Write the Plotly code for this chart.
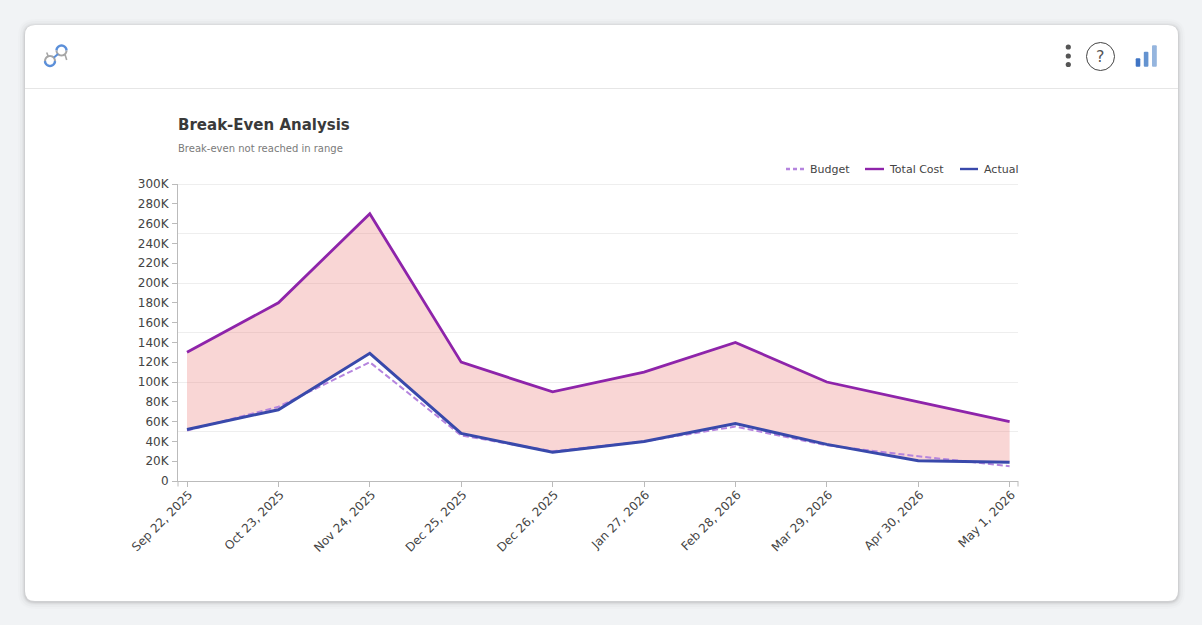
import math
import plotly.graph_objects as go

# Chart data (values in currency units)
dates = ["Sep 22, 2025", "Oct 23, 2025", "Nov 24, 2025", "Dec 25, 2025", "Dec 26, 2025",
         "Jan 27, 2026", "Feb 28, 2026", "Mar 29, 2026", "Apr 30, 2026", "May 1, 2026"]
budget = [51000, 75000, 120000, 46000, 30000, 40000, 55000, 36000, 25000, 15000]
total_cost = [130000, 180000, 270000, 120000, 90000, 110000, 140000, 100000, 80000, 60000]
actual = [52000, 72000, 129000, 48000, 29000, 40000, 58000, 37000, 20500, 19000]
y_ticks = list(range(0, 300001, 20000))
y_tick_labels = ["0"] + [f"{v // 1000}K" for v in y_ticks[1:]]
grid_values = list(range(0, 300001, 50000))

BUDGET_COLOR = "#b584de"
COST_COLOR = "#8e24aa"
ACTUAL_COLOR = "#3949ab"
FILL_COLOR = "rgba(235,115,110,0.29)"
FONT = "DejaVu Sans"

# Figure and plot-area geometry in page pixels
W, H = 1202, 625
L, R, T, B = 178, 1018, 184, 481


def px(x):
    return (x - L) / (R - L)


def py(y):
    return (B - y) / (B - T)


def rounded_rect(x0, y0, x1, y1, r):
    return (f"M{px(x0 + r)},{py(y0)} L{px(x1 - r)},{py(y0)} Q{px(x1)},{py(y0)} {px(x1)},{py(y0 + r)} "
            f"L{px(x1)},{py(y1 - r)} Q{px(x1)},{py(y1)} {px(x1 - r)},{py(y1)} "
            f"L{px(x0 + r)},{py(y1)} Q{px(x0)},{py(y1)} {px(x0)},{py(y1 - r)} "
            f"L{px(x0)},{py(y0 + r)} Q{px(x0)},{py(y0)} {px(x0 + r)},{py(y0)} Z")


def arc(cx, cy, r, a0, a1, steps=14):
    pts = []
    for i in range(steps + 1):
        a = math.radians(a0 + (a1 - a0) * i / steps)
        pts.append((cx + r * math.cos(a), cy + r * math.sin(a)))
    return "M" + " L".join(f"{px(x)},{py(y)}" for x, y in pts)


def line_shape(x0, y0, x1, y1, color, width, dash="solid", layer="above"):
    return dict(type="line", xref="paper", yref="paper", x0=px(x0), x1=px(x1), y0=py(y0), y1=py(y1),
                line=dict(color=color, width=width, dash=dash), layer=layer)


def path_shape(path, color, width=0, fill=None, layer="above"):
    return dict(type="path", xref="paper", yref="paper", path=path, layer=layer,
                fillcolor=fill or "rgba(0,0,0,0)", line=dict(color=color, width=width))


def circle_shape(cx, cy, r, fill=None, color="rgba(0,0,0,0)", width=0):
    return dict(type="circle", xref="paper", yref="paper", x0=px(cx - r), x1=px(cx + r),
                y0=py(cy + r), y1=py(cy - r), fillcolor=fill or "rgba(0,0,0,0)",
                line=dict(color=color, width=width), layer="above")


shapes = []

# Card with a soft drop shadow
for spread, alpha in [(7, 0.012), (5, 0.018), (3, 0.025), (2, 0.035), (1, 0.05)]:
    shapes.append(path_shape(rounded_rect(25 - spread, 25 - spread + 1, 1178 + spread, 601 + spread + 1, 10 + spread),
                             "rgba(0,0,0,0)", fill=f"rgba(0,0,0,{alpha})", layer="below"))
shapes.append(path_shape(rounded_rect(25, 25, 1178, 601, 10), "rgba(0,0,0,0)", fill="#ffffff", layer="below"))
shapes.append(line_shape(25, 88.5, 1178, 88.5, "#e6e6e6", 1, layer="below"))

# Header logo
BLUE = "#5b8fd9"
GREY = "#a6a6a6"
shapes += [
    path_shape(arc(50, 61, 5, 180, 360), GREY, 2),
    path_shape(arc(50, 61, 5, 0, 180), BLUE, 2.4),
    path_shape(arc(61.5, 50.5, 5, 180, 360), BLUE, 2.4),
    path_shape(arc(61.5, 50.5, 5, 0, 180), GREY, 2),
    line_shape(54, 57.5, 58, 54, BLUE, 2),
    line_shape(46.7, 52.5, 48.5, 57, GREY, 1.6),
    line_shape(65, 54.5, 66.7, 60, GREY, 1.6),
]

# Header controls: menu dots, help circle, signal bars
for cy in (47, 56, 64.5):
    shapes.append(circle_shape(1068.3, cy, 2.6, fill="#555555"))
shapes.append(circle_shape(1100.5, 56.5, 14, color="#444444", width=1))
for x0, x1, top, color in [(1135.7, 1140.3, 58.3, "#3f74c4"),
                           (1143.8, 1148.4, 51.7, "#6493d0"),
                           (1152, 1156.8, 45.3, "#95b5de")]:
    shapes.append(path_shape(rounded_rect(x0, top, x1, 66.7, 1), "rgba(0,0,0,0)", fill=color))

# End ticks closing the x axis at both domain edges
shapes.append(line_shape(L, B, L, B + 5.5, "#bbbbbb", 1))
shapes.append(line_shape(R, B, R, B + 5.5, "#bbbbbb", 1))

# Grid line along the top of the value range, which the axis grid leaves out
shapes.append(line_shape(L, T + 0.5, R, T + 0.5, "#eeeeee", 1, layer="below"))

# Legend keys and labels
series_names = ["Budget", "Total Cost", "Actual"]
legend_spots = [(786, 804, 810, BUDGET_COLOR, "4px,3px"),
                (865, 884, 889, COST_COLOR, "solid"),
                (960, 978, 984, ACTUAL_COLOR, "solid")]
annotations = []
for name, (x0, x1, tx, color, dash) in zip(series_names, legend_spots):
    shapes.append(line_shape(x0, 169, x1, 169, color, 2.4, dash=dash))
    annotations.append(dict(text=name, x=px(tx), y=py(169.6), xref="paper", yref="paper", xanchor="left",
                            yanchor="middle", showarrow=False, xshift=-2,
                            font=dict(family=FONT, size=11, color="#444444")))

annotations += [
    dict(text="<b>Break-Even Analysis</b>", x=px(178), y=py(125), xref="paper", yref="paper", xanchor="left",
         yanchor="middle", showarrow=False, xshift=-2, font=dict(family=FONT, size=15, color="#3a3a3a")),
    dict(text="Break-even not reached in range", x=px(178), y=py(148.5), xref="paper", yref="paper",
         xanchor="left", yanchor="middle", showarrow=False, xshift=-2,
         font=dict(family=FONT, size=10, color="#7a7a7a")),
    dict(text="?", x=px(1100), y=py(56), xref="paper", yref="paper", xanchor="center", yanchor="middle",
         showarrow=False, font=dict(family=FONT, size=16, color="#555555")),
]

fig = go.Figure()

# Shaded gap between total cost and actual
fig.add_trace(go.Scatter(x=dates, y=total_cost, mode="lines", line=dict(width=0), showlegend=False, hoverinfo="skip"))
fig.add_trace(go.Scatter(x=dates, y=actual, mode="lines", line=dict(width=0), fill="tonexty",
                         fillcolor=FILL_COLOR, showlegend=False, hoverinfo="skip"))

# Series lines
fig.add_trace(go.Scatter(x=dates, y=budget, name=series_names[0], mode="lines", showlegend=False,
                         line=dict(color=BUDGET_COLOR, width=2, dash="6px,3px")))
fig.add_trace(go.Scatter(x=dates, y=total_cost, name=series_names[1], mode="lines", showlegend=False,
                         line=dict(color=COST_COLOR, width=2.8)))
fig.add_trace(go.Scatter(x=dates, y=actual, name=series_names[2], mode="lines", showlegend=False,
                         line=dict(color=ACTUAL_COLOR, width=3)))

step = 91.4
first = 187
fig.update_layout(
    width=W, height=H, autosize=False,
    margin=dict(l=L, r=W - R, t=T, b=H - B, pad=0),
    paper_bgcolor="#f1f3f5", plot_bgcolor="rgba(0,0,0,0)",
    font=dict(family=FONT),
    shapes=shapes, annotations=annotations, showlegend=False,
    xaxis=dict(type="category", categoryorder="array", categoryarray=dates,
               range=[(L - first) / step, (R - first) / step],
               showgrid=False, zeroline=False, showline=True, linecolor="#bbbbbb", linewidth=1,
               ticks="outside", ticklen=5, tickcolor="#bbbbbb", tickangle=-45,
               ticklabelshift=2, ticklabelstandoff=-4,
               tickfont=dict(family=FONT, size=12, color="#444444")),
    yaxis=dict(range=[0, 300000], tickmode="array", tickvals=y_ticks, ticktext=y_tick_labels,
               showgrid=False, zeroline=False, showline=True, linecolor="#bbbbbb", linewidth=1,
               ticks="outside", ticklen=5, tickcolor="#bbbbbb", ticklabelstandoff=1,
               tickfont=dict(family=FONT, size=12, color="#444444"),
               minor=dict(tickmode="array", tickvals=grid_values, showgrid=True,
                          gridcolor="#eeeeee", gridwidth=1, ticks="")),
)

fig.write_html("out.html", config={"displayModeBar": False})
